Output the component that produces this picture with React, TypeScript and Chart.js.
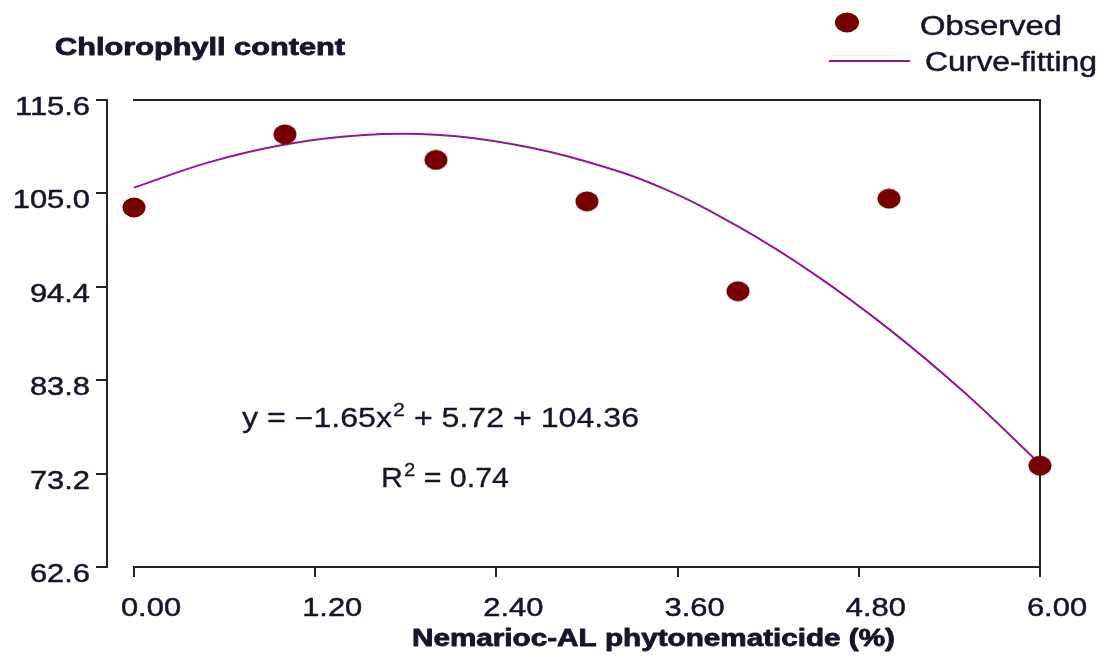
import React, { useEffect, useRef } from "react";
import { Chart, registerables } from "chart.js";

Chart.register(...registerables);

// ---- data ----
const observedX = [0, 1, 2, 3, 4, 5, 6];
const observedY = [103.4, 111.7, 108.8, 104.1, 93.9, 104.4, 74.1];
const curveX = [0, 0.5, 1, 1.5, 2, 2.5, 3, 3.5, 4, 4.5, 5, 5.5, 6];
const curveY = [105.65, 108.55, 110.55, 111.6, 111.65, 110.6, 108.6, 105.6, 101.25, 95.9, 89.6, 82.4, 74.3];
const xTicks = [0, 1.2, 2.4, 3.6, 4.8, 6.0];
const xTickLabels = ["0.00", "1.20", "2.40", "3.60", "4.80", "6.00"];
const yTicks = [62.6, 73.2, 83.8, 94.4, 105.0, 115.6];
const yTickLabels = ["62.6", "73.2", "83.8", "94.4", "105.0", "115.6"];
const yTitle = "Chlorophyll content";
const xTitle = "Nemarioc-AL phytonematicide (%)";
const legendLabels = ["Observed", "Curve-fitting"];
const eqParts = ["y = \u22121.65x", "2", " + 5.72 + 104.36"];
const r2Parts = ["R", "2", " = 0.74"];

// ---- styles ----
const DOT = "#760000";
const CURVE = "#8e1a8e";
const AXIS = "#222222";
const TEXT = "#16162a";
const FONT = "'Liberation Sans', Arial, sans-serif";

function makeDot(w: number, h: number) {
  const c = document.createElement("canvas");
  c.width = w;
  c.height = h;
  const g = c.getContext("2d")!;
  g.fillStyle = DOT;
  g.beginPath();
  g.ellipse(w / 2, h / 2, w / 2 - 0.5, h / 2 - 0.5, 0, 0, Math.PI * 2);
  g.fill();
  return c;
}

function textW(ctx: CanvasRenderingContext2D, text: string, font: string) {
  ctx.save();
  ctx.font = font;
  const w = ctx.measureText(text).width;
  ctx.restore();
  return w;
}

function drawStretched(
  ctx: CanvasRenderingContext2D,
  text: string,
  left: number,
  baseline: number,
  font: string,
  sx: number,
  thick = 0.6
) {
  ctx.save();
  ctx.font = font;
  ctx.fillStyle = TEXT;
  ctx.strokeStyle = TEXT;
  ctx.lineWidth = thick;
  ctx.lineJoin = "round";
  ctx.textAlign = "left";
  ctx.textBaseline = "alphabetic";
  ctx.translate(left, baseline);
  ctx.scale(sx, 1);
  ctx.fillText(text, 0, 0);
  if (thick > 0) ctx.strokeText(text, 0, 0);
  ctx.restore();
  return textW(ctx, text, font) * sx;
}

function drawFit(
  ctx: CanvasRenderingContext2D,
  text: string,
  left: number,
  baseline: number,
  font: string,
  width: number,
  thick = 0.6
) {
  const sx = width / textW(ctx, text, font);
  drawStretched(ctx, text, left, baseline, font, sx, thick);
}

function drawSup(
  ctx: CanvasRenderingContext2D,
  parts: string[],
  left: number,
  baseline: number,
  size: number,
  supSize: number,
  supRise: number,
  width: number
) {
  const f = `${size}px ${FONT}`;
  const fs = `${supSize}px ${FONT}`;
  const raw = textW(ctx, parts[0], f) + textW(ctx, parts[1], fs) + textW(ctx, parts[2], f);
  const sx = width / raw;
  let x = left;
  x += drawStretched(ctx, parts[0], x, baseline, f, sx, 0.3);
  x += drawStretched(ctx, parts[1], x + 1, baseline - supRise, fs, sx, 0.3);
  drawStretched(ctx, parts[2], x + 1, baseline, f, sx, 0.3);
}

const decorPlugin = {
  id: "decor",
  beforeDatasetsDraw(chart: any) {
    const ctx: CanvasRenderingContext2D = chart.ctx;
    const xs = chart.scales.x;
    const ys = chart.scales.y;
    const left = Math.round(xs.getPixelForValue(xTicks[0]));
    const right = Math.round(xs.getPixelForValue(xTicks[xTicks.length - 1]));
    const top = Math.round(ys.getPixelForValue(yTicks[yTicks.length - 1]));
    const bottom = Math.round(ys.getPixelForValue(yTicks[0]));
    const yAxisX = left - 27;

    ctx.save();
    ctx.strokeStyle = AXIS;
    ctx.lineWidth = 2;
    ctx.lineCap = "butt";
    ctx.beginPath();
    ctx.moveTo(left - 1, top);
    ctx.lineTo(right, top);
    ctx.lineTo(right, bottom + 10);
    ctx.stroke();
    ctx.beginPath();
    ctx.moveTo(left - 1, bottom);
    ctx.lineTo(right, bottom);
    ctx.stroke();
    xTicks.forEach((v) => {
      const px = Math.round(xs.getPixelForValue(v));
      ctx.beginPath();
      ctx.moveTo(px, bottom);
      ctx.lineTo(px, bottom + 10);
      ctx.stroke();
    });
    ctx.beginPath();
    ctx.moveTo(yAxisX, top - 1);
    ctx.lineTo(yAxisX, bottom + 1);
    ctx.stroke();
    yTicks.forEach((v) => {
      const py = Math.round(ys.getPixelForValue(v));
      ctx.beginPath();
      ctx.moveTo(yAxisX, py);
      ctx.lineTo(yAxisX - 11, py);
      ctx.stroke();
    });
    ctx.restore();

    const tf = `26px ${FONT}`;
    const sx = 75 / textW(ctx, "115.6", tf);
    yTicks.forEach((v, i) => {
      const py = ys.getPixelForValue(v);
      const w = textW(ctx, yTickLabels[i], tf) * sx;
      drawStretched(ctx, yTickLabels[i], yAxisX - 17 - w, py + 15, tf, sx, 0.5);
    });
    xTicks.forEach((v, i) => {
      const px = xs.getPixelForValue(v);
      const w = textW(ctx, xTickLabels[i], tf) * sx;
      drawStretched(ctx, xTickLabels[i], px + 17 - w / 2, bottom + 49, tf, sx, 0.5);
    });

    drawFit(ctx, yTitle, 55, 55, `bold 23px ${FONT}`, 290, 0.8);
    drawFit(ctx, xTitle, 412, 646, `bold 23px ${FONT}`, 483, 0.8);

    drawSup(ctx, eqParts, 242, 427, 27, 18, 11, 396);
    drawSup(ctx, r2Parts, 381, 487, 27, 18, 11, 127);

    ctx.save();
    ctx.fillStyle = DOT;
    ctx.beginPath();
    ctx.ellipse(847, 22.5, 12, 10, 0, 0, Math.PI * 2);
    ctx.fill();
    ctx.strokeStyle = CURVE;
    ctx.lineWidth = 2;
    ctx.beginPath();
    ctx.moveTo(829, 61);
    ctx.lineTo(910, 61);
    ctx.stroke();
    ctx.restore();
    drawFit(ctx, legendLabels[0], 920, 35, `27px ${FONT}`, 142, 0.5);
    drawFit(ctx, legendLabels[1], 925, 71, `27px ${FONT}`, 172, 0.5);
  },
};

export default function App() {
  const ref = useRef<HTMLCanvasElement | null>(null);
  useEffect(() => {
    if (!ref.current) return;
    const dot = makeDot(24, 21);
    const chart = new Chart(ref.current, {
      type: "scatter",
      data: {
        datasets: [
          {
            label: legendLabels[0],
            data: observedX.map((x, i) => ({ x, y: observedY[i] })),
            pointStyle: dot as any,
            pointRadius: 11,
            showLine: false,
            clip: false as any,
            backgroundColor: DOT,
            borderColor: DOT,
          },
          {
            label: legendLabels[1],
            data: curveX.map((x, i) => ({ x, y: curveY[i] })),
            showLine: true,
            pointRadius: 0,
            borderColor: CURVE,
            borderWidth: 2,
            tension: 0.4,
            fill: false,
            clip: false as any,
          },
        ],
      },
      options: {
        responsive: false,
        animation: false,
        devicePixelRatio: 1,
        layout: { padding: { left: 134, right: 60, top: 100, bottom: 103 } },
        scales: {
          x: { type: "linear", min: 0, max: 6, display: false },
          y: { type: "linear", min: 62.6, max: 115.6, display: false },
        },
        plugins: { legend: { display: false }, tooltip: { enabled: false } },
      },
      plugins: [decorPlugin],
    });
    return () => chart.destroy();
  }, []);
  return (
    <div style={{ position: "absolute", left: 0, top: 0, width: 1100, height: 670, background: "#fff" }}>
      <canvas ref={ref} width={1100} height={670} style={{ width: 1100, height: 670, display: "block" }} />
    </div>
  );
}
